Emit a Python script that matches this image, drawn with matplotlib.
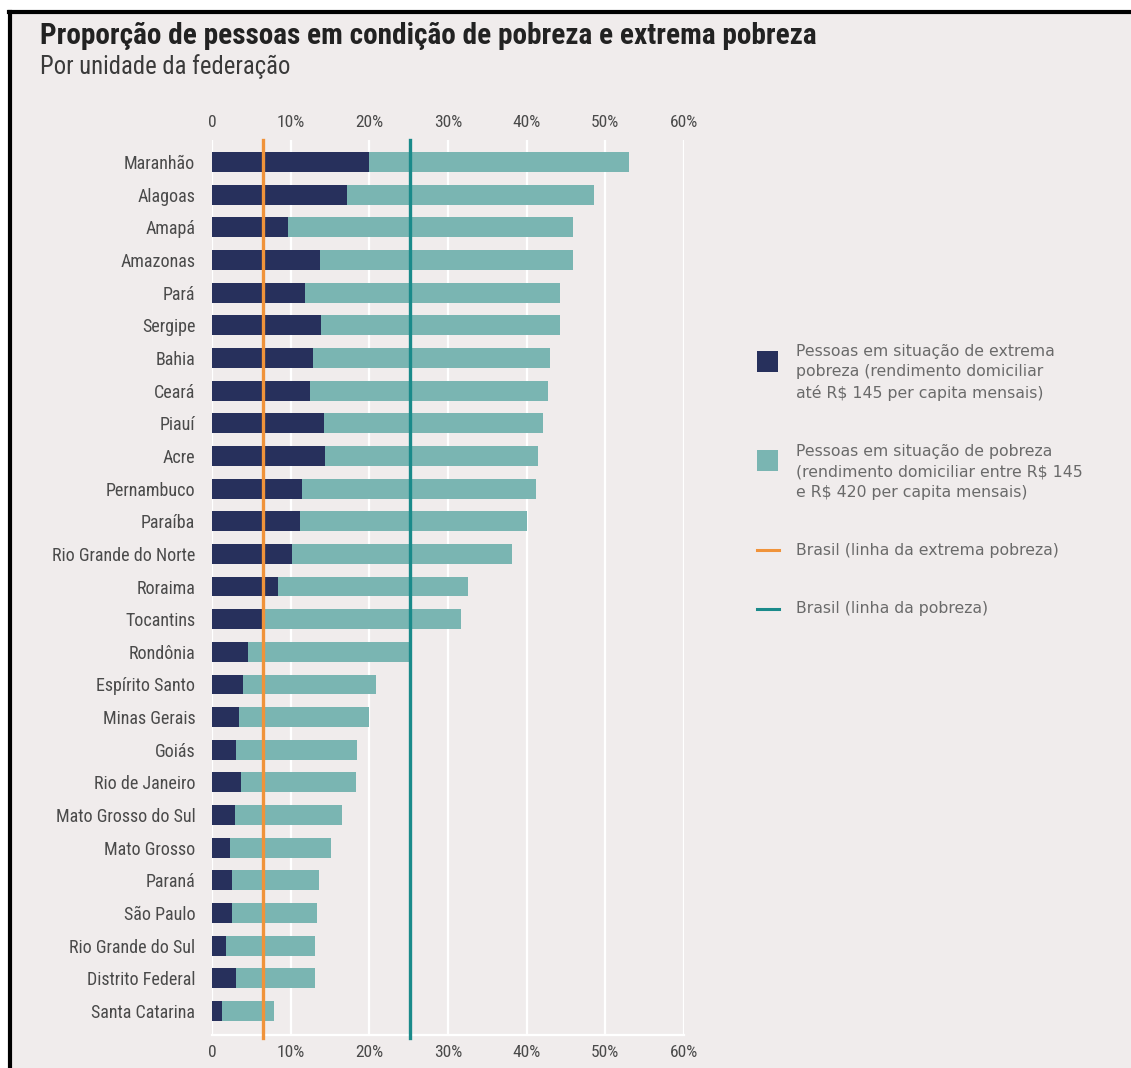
import matplotlib.pyplot as plt
from matplotlib import font_manager as fm
from matplotlib.lines import Line2D
from matplotlib.patches import Rectangle

# Dados por unidade da federação (% da população)
estados = ['Maranhão', 'Alagoas', 'Amapá', 'Amazonas', 'Pará', 'Sergipe', 'Bahia',
           'Ceará', 'Piauí', 'Acre', 'Pernambuco', 'Paraíba', 'Rio Grande do Norte',
           'Roraima', 'Tocantins', 'Rondônia', 'Espírito Santo', 'Minas Gerais',
           'Goiás', 'Rio de Janeiro', 'Mato Grosso do Sul', 'Mato Grosso', 'Paraná',
           'São Paulo', 'Rio Grande do Sul', 'Distrito Federal', 'Santa Catarina']
extrema = [19.9, 17.1, 9.7, 13.7, 11.8, 13.8, 12.9, 12.4, 14.2, 14.4, 11.4, 11.2, 10.2,
           8.4, 6.3, 4.6, 3.9, 3.4, 3.0, 3.7, 2.9, 2.3, 2.6, 2.6, 1.8, 3.0, 1.3]
pobreza_total = [53.0, 48.5, 45.9, 45.9, 44.3, 44.2, 43.0, 42.7, 42.1, 41.5, 41.2, 40.0,
                 38.1, 32.6, 31.7, 25.1, 20.9, 19.9, 18.4, 18.3, 16.5, 15.1, 13.6, 13.4,
                 13.1, 13.1, 7.9]
brasil_extrema = 6.5
brasil_pobreza = 25.2
ticks = [0, 10, 20, 30, 40, 50, 60]
tick_labels = ['0', '10%', '20%', '30%', '40%', '50%', '60%']

bg = '#f0ecec'
navy = '#27305c'
teal_bar = '#7ab5b2'
orange = '#f0933a'
teal_line = '#1a8a8a'

# procura uma fonte condensada, se houver
nomes = {f.name for f in fm.fontManager.ttflist}
stretch = 'normal'
if 'Roboto Condensed' in nomes:
    cond = ['Roboto Condensed', 'DejaVu Sans']
elif 'Liberation Sans Narrow' in nomes:
    cond = ['Liberation Sans Narrow', 'DejaVu Sans']
elif any(f.name == 'DejaVu Sans' and f.stretch == 'condensed' for f in fm.fontManager.ttflist):
    cond = ['DejaVu Sans']
    stretch = 'condensed'
else:
    cond = ['DejaVu Sans']

fig = plt.figure(figsize=(11.31, 10.68), dpi=100)
fig.patch.set_facecolor('white')
renderer = fig.canvas.get_renderer()


def fit(txt, largura_px):
    # ajusta o tamanho da fonte para a largura vista na imagem original
    bb = txt.get_window_extent(renderer)
    txt.set_fontsize(txt.get_fontsize() * largura_px / bb.width)


# fundo e moldura
fig.add_artist(Rectangle((12 / 1131, 0), 1, 1 - 12 / 1068, transform=fig.transFigure,
                         facecolor=bg, edgecolor='none', zorder=0))
fig.add_artist(Line2D([10 / 1131, 10 / 1131], [0, 1 - 12 / 1068], transform=fig.transFigure,
                      color='black', lw=3))
fig.add_artist(Line2D([8.5 / 1131, 1], [1 - 12 / 1068, 1 - 12 / 1068], transform=fig.transFigure,
                      color='black', lw=3))

ax = fig.add_axes([212 / 1131, 1 - 1035 / 1068, 472 / 1131, (1035 - 140) / 1068])
ax.set_facecolor(bg)

y = list(range(len(estados)))
pobreza = [t - e for t, e in zip(pobreza_total, extrema)]
ax.barh(y, extrema, height=0.61, color=navy, zorder=3)
ax.barh(y, pobreza, left=extrema, height=0.61, color=teal_bar, zorder=3)

ax.axvline(brasil_extrema, color=orange, lw=2.4, zorder=4, ymin=-0.003, clip_on=False)
ax.axvline(brasil_pobreza, color=teal_line, lw=2.4, zorder=4, ymin=-0.003, clip_on=False)

ax.set_xlim(0, 60)
ax.set_ylim(len(estados) - 0.265, -0.674)
ax.set_xticks(ticks)
ax.set_xticklabels(tick_labels, family=cond, stretch=stretch, fontsize=10, color='#4a4a4a')
ax.tick_params(axis='x', which='both', length=0, top=True, labeltop=True, pad=7)
ax.set_yticks(y)
ax.set_yticklabels(estados, family=cond, stretch=stretch, fontsize=11, color='#4a4a4a')
ax.tick_params(axis='y', length=0, pad=12)
ax.grid(axis='x', color='white', lw=1.6, zorder=1)
for s in ['top', 'right', 'left']:
    ax.spines[s].set_visible(False)
ax.spines['bottom'].set_color('white')
ax.spines['bottom'].set_linewidth(1.6)

# tamanhos dos rótulos ajustados à largura original
ref = ax.get_yticklabels()[estados.index('Rio Grande do Norte')]
escala = 143 / ref.get_window_extent(renderer).width
for lb in ax.get_yticklabels():
    lb.set_fontsize(11 * escala)
lb60 = ax.get_xticklabels()[-1]
escala_x = 28 / lb60.get_window_extent(renderer).width
for lb in ax.get_xticklabels():
    lb.set_fontsize(10 * escala_x)

titulo = fig.text(40 / 1131, 1 - 36 / 1068,
                  'Proporção de pessoas em condição de pobreza e extrema pobreza',
                  family=cond, stretch=stretch, fontsize=19, fontweight='bold',
                  color='#222222', va='center')
fit(titulo, 778)
sub = fig.text(40 / 1131, 1 - 67 / 1068, 'Por unidade da federação',
               family=cond, stretch=stretch, fontsize=15, color='#3a3a3a', va='center')
fit(sub, 250)

# legenda
leg_x = 757 / 1131
txt_x = 796 / 1131
fs_leg = 11.3
items = [
    (362, 'box', navy, 'Pessoas em situação de extrema\npobreza (rendimento domiciliar\naté R$ 145 per capita mensais)', 353),
    (461, 'box', teal_bar, 'Pessoas em situação de pobreza\n(rendimento domiciliar entre R$ 145\ne R$ 420 per capita mensais)', 453),
    (550, 'line', orange, 'Brasil (linha da extrema pobreza)', 550),
    (609, 'line', teal_line, 'Brasil (linha da pobreza)', 609),
]
for cy, kind, col, label, ty in items:
    if kind == 'box':
        fig.add_artist(Rectangle((leg_x, 1 - (cy + 10) / 1068), 21 / 1131, 21 / 1068,
                                 transform=fig.transFigure, facecolor=col, edgecolor='none'))
        fig.text(txt_x, 1 - (ty - 9) / 1068, label, family='DejaVu Sans', fontsize=fs_leg,
                 color='#6a6a6a', va='top', linespacing=1.45)
    else:
        fig.add_artist(Line2D([leg_x, leg_x + 22 / 1131], [1 - cy / 1068, 1 - cy / 1068],
                              transform=fig.transFigure, color=col, lw=2.2))
        fig.text(txt_x, 1 - ty / 1068, label, family='DejaVu Sans', fontsize=fs_leg,
                 color='#6a6a6a', va='center')

fig.savefig('out.png', dpi=100, facecolor=fig.get_facecolor())
